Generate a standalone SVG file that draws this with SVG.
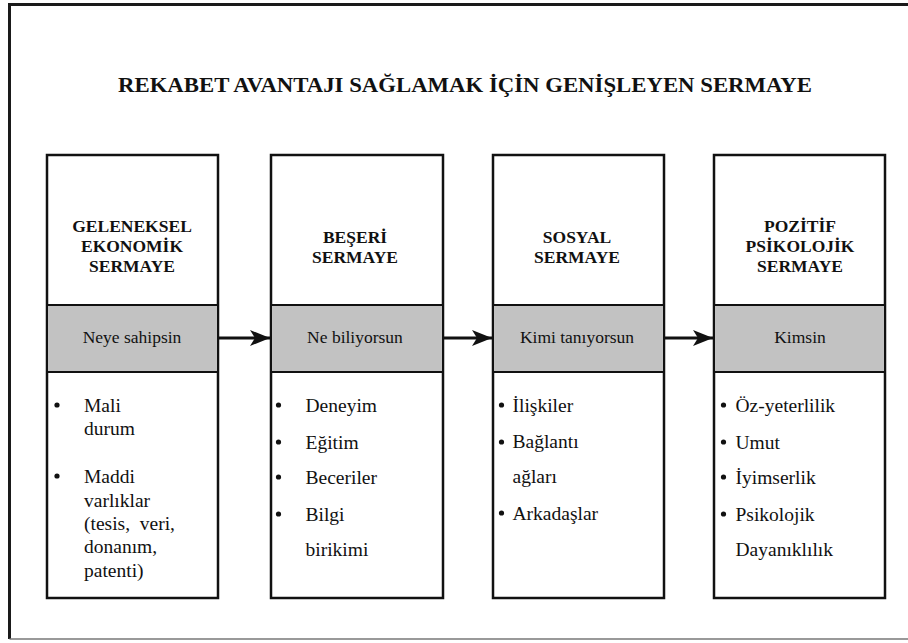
<svg xmlns="http://www.w3.org/2000/svg" width="908" height="643" viewBox="0 0 908 643" font-family="Liberation Serif, serif">
  <style>
    .ttl { font-family: "Liberation Serif", serif; font-weight: bold; font-size: 21px; fill: #111; }
    .cap { font-weight: bold; font-size: 17.5px; text-anchor: middle; fill: #111; }
    .tag { font-size: 17.5px; text-anchor: middle; fill: #111; }
    .pt { font-size: 19.5px; fill: #111; }
    tspan.s { font-family: "Liberation Serif", serif; }
    .box { fill: #fff; stroke: #111; stroke-width: 2.5; }
    .strip { fill: #c2c2c2; stroke: #111; stroke-width: 2; }
    .dot { fill: #111; }
    .link { stroke: #111; stroke-width: 3; fill: none; marker-end: url(#head); }
  </style>
  <defs>
    <marker id="head" viewBox="0 0 20 16" refX="20" refY="8" markerWidth="20" markerHeight="16" markerUnits="userSpaceOnUse" orient="auto">
      <path d="M0,0 L20,8 L0,16 L5,8 Z" fill="#111"/>
    </marker>
  </defs>

  <rect width="908" height="643" fill="#fff"/>

  <!-- frame -->
  <path d="M9.5,639 L9.5,4.5 L908,4.5" fill="none" stroke="#1a1a1a" stroke-width="3"/>
  <line x1="9.5" y1="639" x2="908" y2="639" stroke="#777" stroke-width="1.5"/>

  <text class="ttl" x="118" y="92" textLength="694" lengthAdjust="spacingAndGlyphs">REKABET AVANTAJI SAĞLAMAK İÇİN GENİŞLEYEN SERMAYE</text>

  <!-- connectors -->
  <g id="connectors">
    <line class="link" x1="218" y1="338" x2="270" y2="338"/>
    <line class="link" x1="443" y1="338" x2="492" y2="338"/>
    <line class="link" x1="664" y1="338" x2="713" y2="338"/>
  </g>

  <g id="economic">
    <rect class="box" x="47" y="155" width="171" height="443"/>
    <rect class="strip" x="47" y="305" width="171" height="67"/>
    <text class="cap" x="132" y="232"><tspan class="s" font-family="Liberation Serif">GELENEKSEL</tspan></text>
    <text class="cap" x="132" y="252"><tspan class="s" font-family="Liberation Serif">EKONOMİK</tspan></text>
    <text class="cap" x="132" y="272"><tspan class="s" font-family="Liberation Serif">SERMAYE</tspan></text>
    <text class="tag" x="132" y="343"><tspan class="s" font-family="Liberation Serif">Neye sahipsin</tspan></text>
    <circle class="dot" cx="57" cy="405" r="2.6"/>
    <circle class="dot" cx="57" cy="476" r="2.6"/>
    <text class="pt" x="84" y="412"><tspan class="s" font-family="Liberation Serif">Mali</tspan></text>
    <text class="pt" x="84" y="435"><tspan class="s" font-family="Liberation Serif">durum</tspan></text>
    <text class="pt" x="84" y="483"><tspan class="s" font-family="Liberation Serif">Maddi</tspan></text>
    <text class="pt" x="84" y="507"><tspan class="s" font-family="Liberation Serif">varlıklar</tspan></text>
    <text class="pt" x="84" y="530" xml:space="preserve"><tspan class="s" font-family="Liberation Serif">(tesis,  veri,</tspan></text>
    <text class="pt" x="84" y="553"><tspan class="s" font-family="Liberation Serif">donanım,</tspan></text>
    <text class="pt" x="84" y="577"><tspan class="s" font-family="Liberation Serif">patenti)</tspan></text>
  </g>

  <g id="human">
    <rect class="box" x="271" y="155" width="172" height="443"/>
    <rect class="strip" x="271" y="305" width="172" height="67"/>
    <text class="cap" x="355" y="243"><tspan class="s" font-family="Liberation Serif">BEŞERİ</tspan></text>
    <text class="cap" x="355" y="263"><tspan class="s" font-family="Liberation Serif">SERMAYE</tspan></text>
    <text class="tag" x="355" y="343"><tspan class="s" font-family="Liberation Serif">Ne biliyorsun</tspan></text>
    <circle class="dot" cx="278.5" cy="405" r="2.6"/>
    <circle class="dot" cx="278.5" cy="442" r="2.6"/>
    <circle class="dot" cx="278.5" cy="477" r="2.6"/>
    <circle class="dot" cx="278.5" cy="514" r="2.6"/>
    <text class="pt" x="305.5" y="412"><tspan class="s" font-family="Liberation Serif">Deneyim</tspan></text>
    <text class="pt" x="305.5" y="449"><tspan class="s" font-family="Liberation Serif">Eğitim</tspan></text>
    <text class="pt" x="305.5" y="484"><tspan class="s" font-family="Liberation Serif">Beceriler</tspan></text>
    <text class="pt" x="305.5" y="521"><tspan class="s" font-family="Liberation Serif">Bilgi</tspan></text>
    <text class="pt" x="305.5" y="556"><tspan class="s" font-family="Liberation Serif">birikimi</tspan></text>
  </g>

  <g id="social">
    <rect class="box" x="493" y="155" width="171" height="443"/>
    <rect class="strip" x="493" y="305" width="171" height="67"/>
    <text class="cap" x="577" y="243"><tspan class="s" font-family="Liberation Serif">SOSYAL</tspan></text>
    <text class="cap" x="577" y="263"><tspan class="s" font-family="Liberation Serif">SERMAYE</tspan></text>
    <text class="tag" x="577" y="343"><tspan class="s" font-family="Liberation Serif">Kimi tanıyorsun</tspan></text>
    <circle class="dot" cx="501.5" cy="405" r="2.6"/>
    <circle class="dot" cx="501.5" cy="442" r="2.6"/>
    <circle class="dot" cx="501.5" cy="513" r="2.6"/>
    <text class="pt" x="512.5" y="412"><tspan class="s" font-family="Liberation Serif">İlişkiler</tspan></text>
    <text class="pt" x="512.5" y="448"><tspan class="s" font-family="Liberation Serif">Bağlantı</tspan></text>
    <text class="pt" x="512.5" y="483"><tspan class="s" font-family="Liberation Serif">ağları</tspan></text>
    <text class="pt" x="512.5" y="520"><tspan class="s" font-family="Liberation Serif">Arkadaşlar</tspan></text>
  </g>

  <g id="psychological">
    <rect class="box" x="714" y="155" width="171" height="443"/>
    <rect class="strip" x="714" y="305" width="171" height="67"/>
    <text class="cap" x="800" y="232"><tspan class="s" font-family="Liberation Serif">POZİTİF</tspan></text>
    <text class="cap" x="800" y="252"><tspan class="s" font-family="Liberation Serif">PSİKOLOJİK</tspan></text>
    <text class="cap" x="800" y="272"><tspan class="s" font-family="Liberation Serif">SERMAYE</tspan></text>
    <text class="tag" x="800" y="343"><tspan class="s" font-family="Liberation Serif">Kimsin</tspan></text>
    <circle class="dot" cx="723.5" cy="405" r="2.6"/>
    <circle class="dot" cx="723.5" cy="442" r="2.6"/>
    <circle class="dot" cx="723.5" cy="477" r="2.6"/>
    <circle class="dot" cx="723.5" cy="514" r="2.6"/>
    <text class="pt" x="735.5" y="412"><tspan class="s" font-family="Liberation Serif">Öz-yeterlilik</tspan></text>
    <text class="pt" x="735.5" y="449"><tspan class="s" font-family="Liberation Serif">Umut</tspan></text>
    <text class="pt" x="735.5" y="484"><tspan class="s" font-family="Liberation Serif">İyimserlik</tspan></text>
    <text class="pt" x="735.5" y="521"><tspan class="s" font-family="Liberation Serif">Psikolojik</tspan></text>
    <text class="pt" x="735.5" y="556"><tspan class="s" font-family="Liberation Serif">Dayanıklılık</tspan></text>
  </g>
</svg>
